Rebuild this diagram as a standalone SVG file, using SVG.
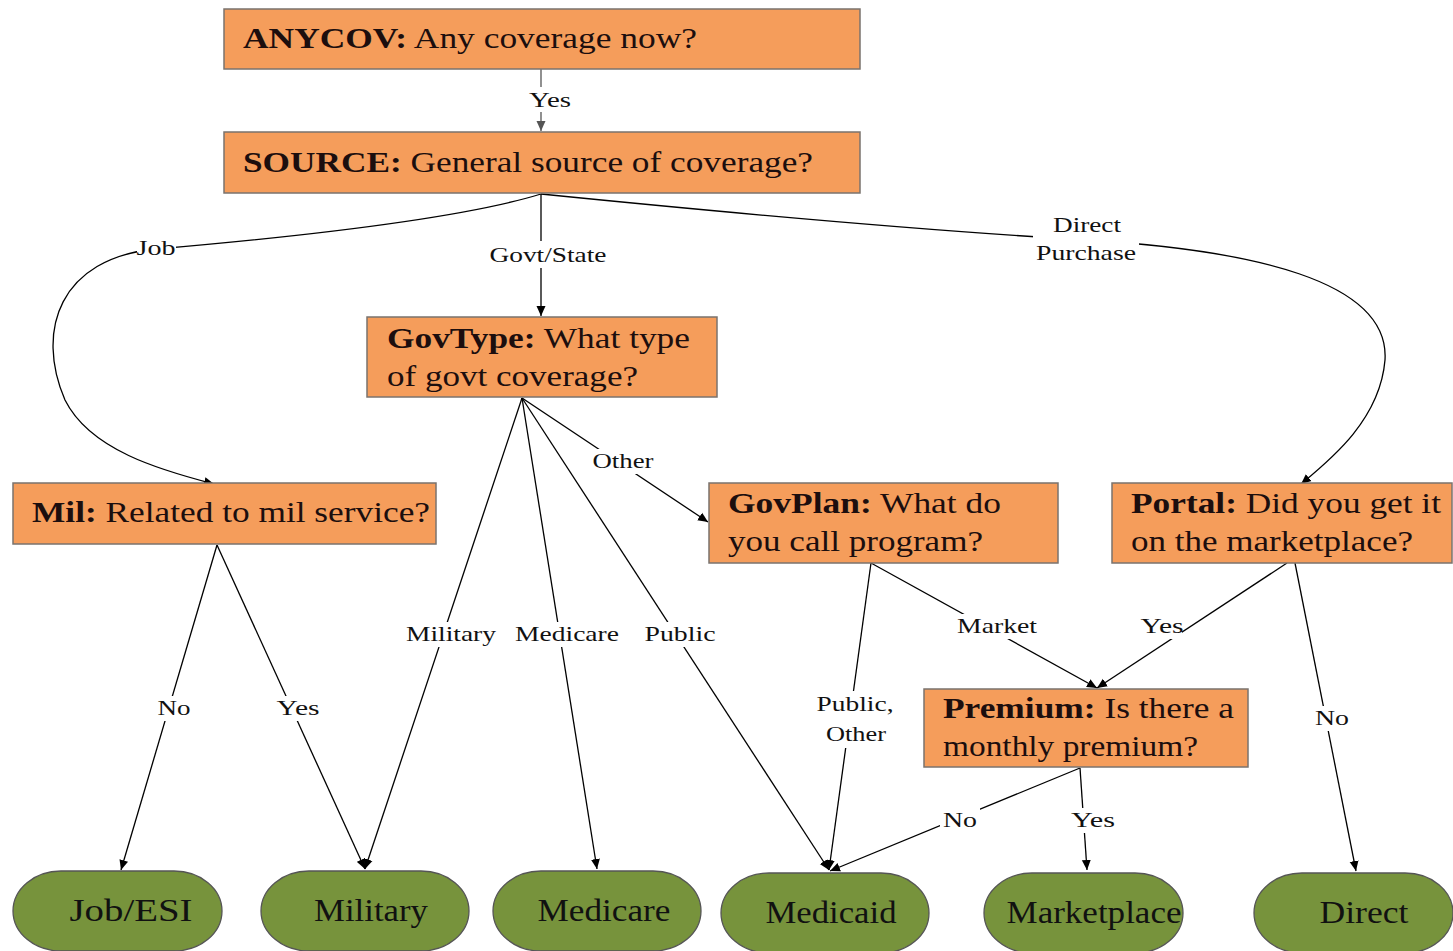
<svg xmlns="http://www.w3.org/2000/svg" width="1453" height="951" viewBox="0 0 1453 951">
<defs>
<marker id="ah" viewBox="0 0 10 10" refX="10" refY="5" markerWidth="10" markerHeight="10" markerUnits="userSpaceOnUse" orient="auto"><path d="M0,0.5 L10,5 L0,9.5 Z" fill="#000"/></marker>
<marker id="ahg" viewBox="0 0 10 10" refX="10" refY="5" markerWidth="10" markerHeight="10" markerUnits="userSpaceOnUse" orient="auto"><path d="M0,0.5 L10,5 L0,9.5 Z" fill="#555"/></marker>
<style>
.box{fill:#F59D5B;stroke:#7a736e;stroke-width:1.5}
.term{fill:#77933C;stroke:#555;stroke-width:1.3}
.bt{font-family:"Liberation Serif","Times New Roman",serif;font-size:29px;fill:#1c0e0e}
.tt{font-family:"Liberation Serif","Times New Roman",serif;font-size:31px;fill:#111;text-anchor:middle}
.lb{font-family:"Liberation Serif","Times New Roman",serif;font-size:21px;fill:#111;text-anchor:middle}
.bg{fill:#fff}
.c{fill:none;stroke:#000;stroke-width:1.3;marker-end:url(#ah)}
.cn{fill:none;stroke:#000;stroke-width:1.3}
b{font-weight:bold}
</style>
</defs>
<rect width="1453" height="951" fill="#fff"/>

<g id="connectors">
<path class="cn" d="M541,69 L541,131" stroke="#555" style="stroke:#555;marker-end:url(#ahg)"/>
<path class="c" d="M541,194 L541,316"/>
<path class="c" d="M541,194 C450,222 260,240 156,249 C60,258 35,330 65,400 C90,450 160,470 214,484"/>
<path class="c" d="M541,194 C750,215 950,232 1087,240 C1250,250 1390,280 1385,360 C1380,420 1330,460 1301,484"/>
<path class="c" d="M522,398 L365,869"/>
<path class="c" d="M522,398 L597,869"/>
<path class="c" d="M522,398 L829,870"/>
<path class="c" d="M522,398 L708,522"/>
<path class="c" d="M217,545 L121,870"/>
<path class="c" d="M217,545 L365,869"/>
<path class="c" d="M871,563 L829,870"/>
<path class="c" d="M871,563 L1097,688"/>
<path class="c" d="M1287,563 L1097,688"/>
<path class="c" d="M1295,563 L1356,871"/>
<path class="c" d="M1080,768 L830,871"/>
<path class="c" d="M1080,768 L1087,870"/>
<g id="labels">
<rect class="bg" x="525" y="87" width="50" height="25"/><text class="lb" x="550" y="107" textLength="42" lengthAdjust="spacingAndGlyphs">Yes</text>
<rect class="bg" x="486" y="241" width="126" height="27"/><text class="lb" x="548" y="262" textLength="117" lengthAdjust="spacingAndGlyphs">Govt/State</text>
<rect class="bg" x="137" y="236" width="39" height="24"/><text class="lb" x="156" y="255" textLength="39" lengthAdjust="spacingAndGlyphs">Job</text>
<rect class="bg" x="1033" y="213" width="106" height="52"/><text class="lb" x="1087" y="232" textLength="68" lengthAdjust="spacingAndGlyphs">Direct</text><text class="lb" x="1086" y="260" textLength="100" lengthAdjust="spacingAndGlyphs">Purchase</text>
<rect class="bg" x="590" y="449" width="67" height="25"/><text class="lb" x="623" y="468" textLength="61" lengthAdjust="spacingAndGlyphs">Other</text>
<rect class="bg" x="403" y="622" width="96" height="25"/><text class="lb" x="451" y="641" textLength="90" lengthAdjust="spacingAndGlyphs">Military</text>
<rect class="bg" x="512" y="622" width="110" height="25"/><text class="lb" x="567" y="641" textLength="104" lengthAdjust="spacingAndGlyphs">Medicare</text>
<rect class="bg" x="642" y="622" width="77" height="25"/><text class="lb" x="680" y="641" textLength="71" lengthAdjust="spacingAndGlyphs">Public</text>
<rect class="bg" x="154" y="696" width="40" height="25"/><text class="lb" x="174" y="715" textLength="33" lengthAdjust="spacingAndGlyphs">No</text>
<rect class="bg" x="274" y="696" width="49" height="25"/><text class="lb" x="298" y="715" textLength="43" lengthAdjust="spacingAndGlyphs">Yes</text>
<rect class="bg" x="954" y="614" width="86" height="25"/><text class="lb" x="997" y="633" textLength="80" lengthAdjust="spacingAndGlyphs">Market</text>
<rect class="bg" x="1138" y="614" width="44" height="25"/><text class="lb" x="1162" y="633" textLength="43" lengthAdjust="spacingAndGlyphs">Yes</text>
<rect class="bg" x="813" y="691" width="84" height="57"/><text class="lb" x="855" y="711" textLength="77" lengthAdjust="spacingAndGlyphs">Public,</text><text class="lb" x="856" y="741" textLength="60" lengthAdjust="spacingAndGlyphs">Other</text>
<rect class="bg" x="1312" y="706" width="40" height="25"/><text class="lb" x="1332" y="725" textLength="34" lengthAdjust="spacingAndGlyphs">No</text>
<rect class="bg" x="940" y="808" width="40" height="25"/><text class="lb" x="960" y="827" textLength="34" lengthAdjust="spacingAndGlyphs">No</text>
<rect class="bg" x="1068" y="808" width="50" height="25"/><text class="lb" x="1093" y="827" textLength="44" lengthAdjust="spacingAndGlyphs">Yes</text>
</g>
</g>

<g id="anycov"><rect class="box" x="224" y="9" width="636" height="60"/><text class="bt" x="243" y="48" textLength="454" lengthAdjust="spacingAndGlyphs"><tspan font-weight="bold">ANYCOV:</tspan> Any coverage now?</text></g>
<g id="source"><rect class="box" x="224" y="132" width="636" height="61"/><text class="bt" x="243" y="172" textLength="570" lengthAdjust="spacingAndGlyphs"><tspan font-weight="bold">SOURCE:</tspan> General source of coverage?</text></g>
<g id="govtype"><rect class="box" x="367" y="317" width="350" height="80"/><text class="bt" x="387" y="348" textLength="303" lengthAdjust="spacingAndGlyphs"><tspan font-weight="bold">GovType:</tspan> What type</text><text class="bt" x="387" y="386" textLength="251" lengthAdjust="spacingAndGlyphs">of govt coverage?</text></g>
<g id="mil"><rect class="box" x="13" y="483" width="423" height="61"/><text class="bt" x="32" y="522" textLength="398" lengthAdjust="spacingAndGlyphs"><tspan font-weight="bold">Mil:</tspan> Related to mil service?</text></g>
<g id="govplan"><rect class="box" x="709" y="483" width="349" height="80"/><text class="bt" x="728" y="513" textLength="273" lengthAdjust="spacingAndGlyphs"><tspan font-weight="bold">GovPlan:</tspan> What do</text><text class="bt" x="728" y="551" textLength="255" lengthAdjust="spacingAndGlyphs">you call program?</text></g>
<g id="portal"><rect class="box" x="1112" y="483" width="340" height="80"/><text class="bt" x="1131" y="513" textLength="310" lengthAdjust="spacingAndGlyphs"><tspan font-weight="bold">Portal:</tspan> Did you get it</text><text class="bt" x="1131" y="551" textLength="282" lengthAdjust="spacingAndGlyphs">on the marketplace?</text></g>
<g id="premium"><rect class="box" x="924" y="689" width="324" height="78"/><text class="bt" x="943" y="718" textLength="291" lengthAdjust="spacingAndGlyphs"><tspan font-weight="bold">Premium:</tspan> Is there a</text><text class="bt" x="943" y="756" textLength="255" lengthAdjust="spacingAndGlyphs">monthly premium?</text></g>

<g id="jobesi"><rect class="term" x="13" y="871" width="209" height="80" rx="48" ry="40"/><text class="tt" x="131" y="921" textLength="123" lengthAdjust="spacingAndGlyphs">Job/ESI</text></g>
<g id="military"><rect class="term" x="261" y="871" width="208" height="80" rx="48" ry="40"/><text class="tt" x="371" y="921" textLength="114" lengthAdjust="spacingAndGlyphs">Military</text></g>
<g id="medicare"><rect class="term" x="493" y="871" width="208" height="80" rx="48" ry="40"/><text class="tt" x="604" y="921" textLength="133" lengthAdjust="spacingAndGlyphs">Medicare</text></g>
<g id="medicaid"><rect class="term" x="721" y="873" width="208" height="80" rx="48" ry="40"/><text class="tt" x="831" y="923" textLength="131" lengthAdjust="spacingAndGlyphs">Medicaid</text></g>
<g id="marketplace"><rect class="term" x="984" y="873" width="199" height="80" rx="48" ry="40"/><text class="tt" x="1094" y="923" textLength="175" lengthAdjust="spacingAndGlyphs">Marketplace</text></g>
<g id="direct"><rect class="term" x="1254" y="873" width="199" height="80" rx="48" ry="40"/><text class="tt" x="1364" y="923" textLength="89" lengthAdjust="spacingAndGlyphs">Direct</text></g>
</svg>
